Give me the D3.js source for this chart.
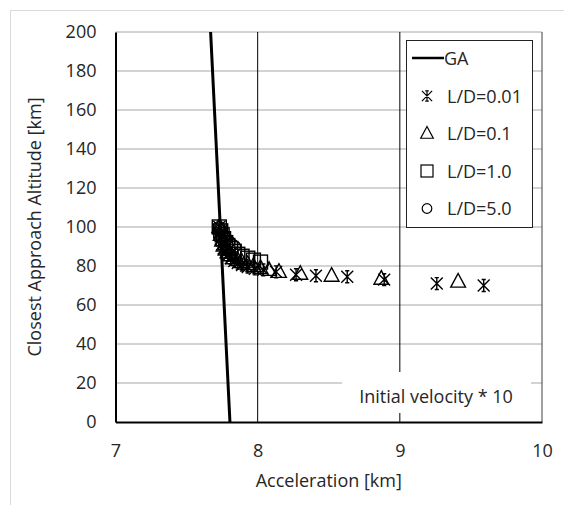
<!DOCTYPE html>
<html>
<head>
<meta charset="utf-8">
<script src="https://cdn.jsdelivr.net/npm/d3@7"></script>
<style>
  body { margin: 0; background: #fff; }
  svg text { font-family: "Open Sans", "Noto Sans", sans-serif; fill: #262626; }
</style>
</head>
<body>
<div id="chart"></div>
<script>
// ========== DATA ==========
const xTicks = [7, 8, 9, 10];
const yTicks = [0, 20, 40, 60, 80, 100, 120, 140, 160, 180, 200];

// GA line (acceleration, altitude)
const gaX = [7.669, 7.737, 7.805];
const gaY = [200, 100, 0];

// L/D = 0.01 (stars)
const ld001X = [7.73, 7.735, 7.74, 7.75, 7.76, 7.775, 7.79, 7.81, 7.835, 7.86, 7.89, 7.93, 7.98, 8.04, 8.13, 8.27, 8.41, 8.63, 8.89, 9.26, 9.59];
const ld001Y = [100, 97, 94, 91, 89, 87, 85.5, 84, 82.5, 81.5, 80.5, 79.5, 78.5, 78, 77, 75.5, 75, 74.5, 73, 71, 70];

// L/D = 0.1 (triangles)
const ld01X = [7.73, 7.74, 7.75, 7.76, 7.775, 7.79, 7.81, 7.83, 7.86, 7.89, 7.93, 7.97, 8.02, 8.08, 8.15, 8.30, 8.52, 8.87, 9.41];
const ld01Y = [100, 96, 93, 90.5, 88.5, 87, 85.5, 84, 83, 82, 81, 80, 79, 78, 77, 76, 75, 73.5, 72];

// L/D = 1.0 (squares)
const ld1X = [7.73, 7.74, 7.75, 7.76, 7.775, 7.79, 7.81, 7.835, 7.86, 7.89, 7.93, 7.97, 8.02];
const ld1Y = [100, 98, 96, 94, 92, 90.5, 89, 87.5, 86, 85, 84, 83, 82];

// L/D = 5.0 (circles)
const ld5X = [7.73, 7.74, 7.75, 7.765, 7.78, 7.80, 7.82, 7.84];
const ld5Y = [100, 98.5, 97, 95.5, 94, 92.5, 91, 90];

const width = 564, height = 505;
const fontSize = "18px";

const svg = d3.select("#chart").append("svg")
    .attr("width", width)
    .attr("height", height);

// outer chart border
svg.append("rect")
    .attr("x", 10.5).attr("y", 10.5)
    .attr("width", 620).attr("height", 620)
    .attr("fill", "#fff")
    .attr("stroke", "#d9d9d9");

// ========== SCALES ==========
const x = d3.scaleLinear().domain([7, 10]).range([115.5, 542]);
const y = d3.scaleLinear().domain([0, 200]).range([422, 32]);

// ========== GRID ==========
svg.append("g").selectAll("line")
    .data(yTicks.filter(d => d > 0))
    .join("line")
    .attr("x1", x(7)).attr("x2", x(10))
    .attr("y1", d => y(d)).attr("y2", d => y(d))
    .attr("stroke", "#a6a6a6")
    .attr("stroke-width", 1);

svg.append("g").selectAll("line")
    .data(xTicks.filter(d => d > 7))
    .join("line")
    .attr("x1", d => x(d)).attr("x2", d => x(d))
    .attr("y1", y(0)).attr("y2", y(200))
    .attr("stroke", d => d === 10 ? "#404040" : "#000")
    .attr("stroke-width", 1);

// ========== AXES ==========
const leftAxis = d3.axisLeft(y).tickValues(yTicks).tickSize(0).tickPadding(19);
const gy = svg.append("g").attr("transform", `translate(${x(7)},0)`).call(leftAxis);
gy.select(".domain").attr("stroke", "#000").attr("stroke-width", 2);
gy.selectAll("text").style("font-size", fontSize);

const bottomAxis = d3.axisBottom(x).tickValues(xTicks).tickFormat(d3.format("d")).tickSize(0).tickPadding(22);
const gx = svg.append("g").attr("transform", `translate(0,${y(0)})`).call(bottomAxis);
gx.select(".domain").attr("stroke", "#000").attr("stroke-width", 2);
gx.selectAll("text").style("font-size", fontSize);

svg.append("text")
    .attr("x", x(8.5)).attr("y", 487)
    .attr("text-anchor", "middle")
    .style("font-size", fontSize)
    .text("Acceleration [km]");

svg.append("text")
    .attr("transform", `translate(41,${y(100)}) rotate(-90)`)
    .attr("text-anchor", "middle")
    .style("font-size", fontSize)
    .text("Closest Approach Altitude [km]");

// ========== SERIES ==========
const plot = svg.append("g");

const starPath = s => `M${-s},${-s}L${s},${s}M${s},${-s}L${-s},${s}M0,${-s}L0,${s}M${-s * 0.35},${-s}L${s * 0.35},${-s}M${-s * 0.35},${s}L${s * 0.35},${s}`;
const triPath = s => `M0,${-s * 1.1}L${s},${s * 0.75}L${-s},${s * 0.75}Z`;

const markers = [
    { xs: ld5X, ys: ld5Y, type: "circle" },
    { xs: ld1X, ys: ld1Y, type: "square" },
    { xs: ld01X, ys: ld01Y, type: "triangle" },
    { xs: ld001X, ys: ld001Y, type: "star" }
];

function drawMarker(g, type, s, sw) {
    if (type === "circle") {
        g.append("circle").attr("r", s * 0.8);
    } else if (type === "square") {
        g.append("rect").attr("x", -s).attr("y", -s).attr("width", 2 * s).attr("height", 2 * s);
    } else if (type === "triangle") {
        g.append("path").attr("d", triPath(s * 1.05));
    } else {
        g.append("path").attr("d", starPath(s * 0.85));
    }
    g.selectAll("*")
        .attr("fill", "none")
        .attr("stroke", "#000")
        .attr("stroke-width", sw);
}

markers.forEach(m => {
    m.xs.forEach((v, i) => {
        const g = plot.append("g").attr("transform", `translate(${x(v)},${y(m.ys[i])})`);
        drawMarker(g, m.type, 7, 1.4);
    });
});

// GA line
const gaData = gaX.map((v, i) => [v, gaY[i]]);
plot.append("path")
    .datum(gaData)
    .attr("d", d3.line().x(d => x(d[0])).y(d => y(d[1])))
    .attr("fill", "none")
    .attr("stroke", "#000")
    .attr("stroke-width", 3);

// ========== ANNOTATION BOX ==========
svg.append("rect")
    .attr("x", 342).attr("y", 372)
    .attr("width", 189).attr("height", 41)
    .attr("fill", "#fff");
svg.append("text")
    .attr("x", 436).attr("y", 403)
    .attr("text-anchor", "middle")
    .style("font-size", fontSize)
    .text("Initial velocity * 10");

// ========== LEGEND ==========
const legend = svg.append("g");
legend.append("rect")
    .attr("x", 406.5).attr("y", 40.5)
    .attr("width", 126).attr("height", 187)
    .attr("fill", "#fff")
    .attr("stroke", "#222");

legend.append("line")
    .attr("x1", 412).attr("x2", 444)
    .attr("y1", 58).attr("y2", 58)
    .attr("stroke", "#000").attr("stroke-width", 2.5);
legend.append("text")
    .attr("x", 444).attr("y", 64.5)
    .style("font-size", fontSize)
    .text("GA");

const legendItems = [
    { label: "L/D=0.01", type: "star" },
    { label: "L/D=0.1", type: "triangle" },
    { label: "L/D=1.0", type: "square" },
    { label: "L/D=5.0", type: "circle" }
];
legendItems.forEach((d, i) => {
    const yy = 96 + i * 37.5;
    const g = legend.append("g").attr("transform", `translate(427,${yy})`);
    drawMarker(g, d.type, 6, 1.2);
    legend.append("text")
        .attr("x", 447).attr("y", yy + 6.5)
        .style("font-size", fontSize)
        .text(d.label);
});
</script>
</body>
</html>
